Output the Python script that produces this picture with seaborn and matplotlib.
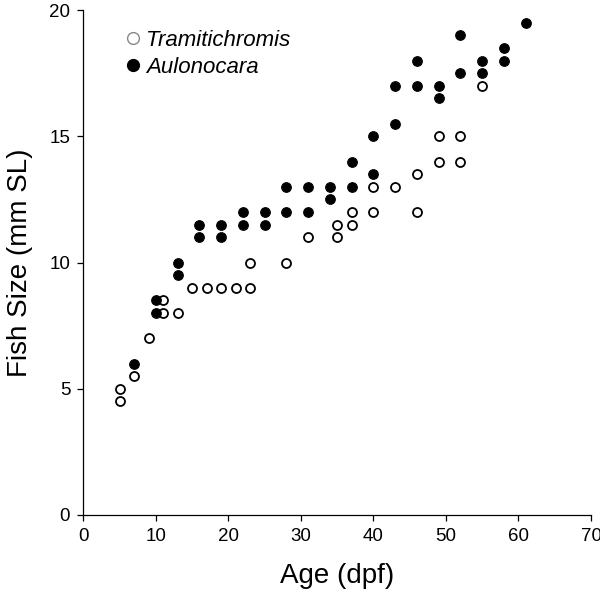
import numpy as np
import pandas as pd
import matplotlib
matplotlib.use("Agg")
import matplotlib.pyplot as plt
import seaborn as sns
from matplotlib.lines import Line2D

# -----------------------------
# data
# -----------------------------
tram_age = [5, 5, 7, 9, 11, 11, 13, 15, 17, 19, 21, 23, 23, 28, 31, 35, 35,
            37, 37, 40, 40, 43, 46, 46, 49, 49, 52, 52, 55]
tram_size = [5.0, 4.5, 5.5, 7.0, 8.5, 8.0, 8.0, 9, 9, 9, 9, 9, 10, 10, 11, 11.5, 11,
             12, 11.5, 13, 12, 13, 13.5, 12, 15, 14, 15, 14, 17]

aulo_age = [7, 10, 10, 13, 13, 16, 16, 19, 19, 22, 22, 25, 25, 28, 28, 31, 31,
            34, 34, 37, 37, 40, 40, 43, 43, 46, 46, 49, 49, 52, 52, 55, 55, 58, 58, 61]
aulo_size = [6.0, 8.5, 8.0, 10, 9.5, 11.5, 11, 11.5, 11, 12, 11.5, 12, 11.5, 13, 12, 13, 12,
             13, 12.5, 14, 13, 15, 13.5, 17, 15.5, 18, 17, 17, 16.5, 19, 17.5, 18, 17.5, 18.5, 18, 19.5]

species = ["Tramitichromis", "Aulonocara"]

df = pd.DataFrame({
    "age": tram_age + aulo_age,
    "size": tram_size + aulo_size,
    "species": [species[0]] * len(tram_age) + [species[1]] * len(aulo_age),
})

# -----------------------------
# style
# -----------------------------
sns.set_style("ticks", {"axes.edgecolor": "black", "text.color": "black",
                        "axes.labelcolor": "black", "xtick.color": "black",
                        "ytick.color": "black"})
plt.rcParams["font.family"] = ["Liberation Sans", "DejaVu Sans"]
plt.rcParams["axes.linewidth"] = 0.9
plt.rcParams["xtick.major.width"] = 0.9
plt.rcParams["ytick.major.width"] = 0.9
plt.rcParams["xtick.major.size"] = 4.5
plt.rcParams["ytick.major.size"] = 4.5

fig = plt.figure(figsize=(6.0, 5.96), dpi=100)
ax = fig.add_axes([0.139, 0.136, 0.846, 0.847])

sns.scatterplot(data=df[df.species == species[0]], x="age", y="size",
                color="white", edgecolor="black", linewidth=1.3, s=42,
                legend=False, ax=ax, zorder=3)
sns.scatterplot(data=df[df.species == species[1]], x="age", y="size",
                color="black", edgecolor="black", linewidth=0.8, s=48,
                legend=False, ax=ax, zorder=4)

ax.set_xlim(0, 70)
ax.set_ylim(0, 20)
ax.set_xticks(np.arange(0, 71, 10))
ax.set_yticks(np.arange(0, 21, 5))
ax.tick_params(labelsize=13.5, colors="black", pad=5)
sns.despine(ax=ax)

ax.set_xlabel("Age (dpf)", fontsize=20, labelpad=13, color="black")
ax.set_ylabel("Fish Size (mm SL)", fontsize=20, labelpad=12, color="black")

handles = [
    Line2D([], [], marker="o", linestyle="none", markerfacecolor="white",
           markeredgecolor="#888888", markeredgewidth=1.0, markersize=8.5),
    Line2D([], [], marker="o", linestyle="none", markerfacecolor="black",
           markeredgecolor="black", markersize=8.5),
]
leg = ax.legend(handles, species, loc="upper left", bbox_to_anchor=(0.04, 1.0),
                frameon=False, handlelength=0.8, handletextpad=0.2,
                labelspacing=0.25, prop={"size": 16, "style": "italic"},
                labelcolor="black")

fig.savefig("out.png", dpi=100)
